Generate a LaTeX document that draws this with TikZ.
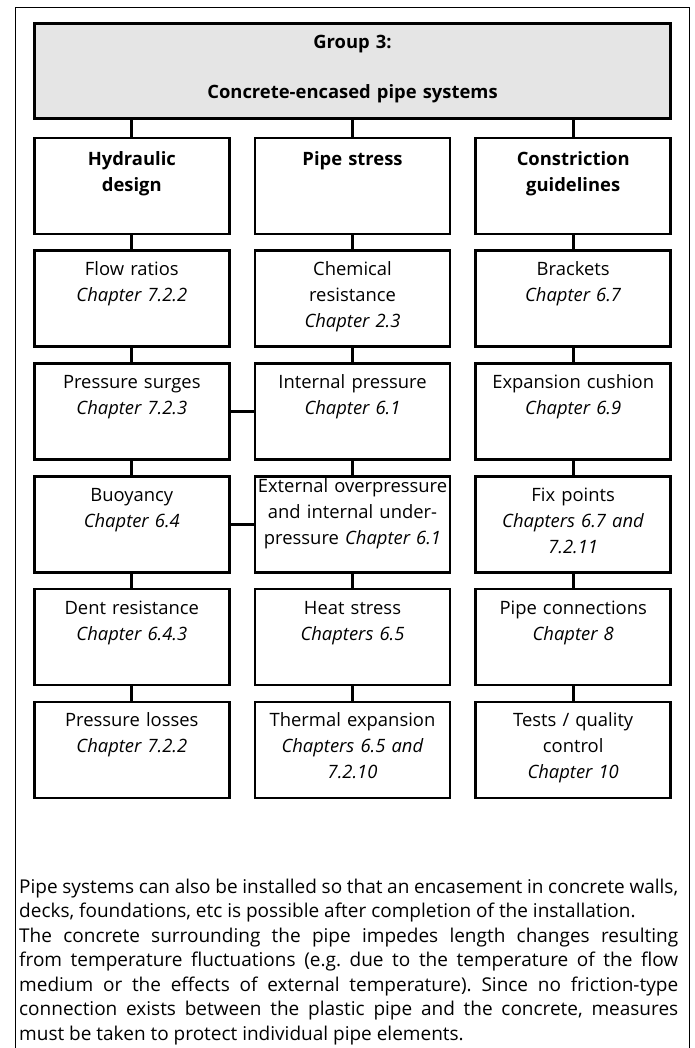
\documentclass[tikz,border=0pt]{standalone}
\usepackage{fontspec}
\setmainfont{Open Sans}
\usepackage{tikz}
\usepackage{xcolor}
\usetikzlibrary{matrix}
\usetikzlibrary{positioning}

\definecolor{headGray}{gray}{0.9}
\frenchspacing

\begin{document}
\begin{tikzpicture}
[
x=1pt, y=-1pt,
chapBox/.style={
	draw=black,
	rectangle,
	line width=2.7pt,
	text width=189pt,
	inner xsep=3pt,
	inner ysep=4pt,
	text height=21pt,
	text depth=67pt,
	align=center,
	font=\fontsize{18.4}{26}\selectfont},
headBox/.style={
	chapBox,
	text height=24pt,
	text depth=64pt,
	font=\fontsize{18.4}{26}\selectfont\bfseries},
groupBox/.style={
	headBox,
	fill=headGray,
	text width=630.5pt,
	text height=21pt,
	text depth=65.8pt},
linkLine/.style={
	line width=2.7pt},
noteText/.style={
	draw=none,
	text width=659pt,
	inner sep=0pt,
	align=justify,
	font=\fontsize{19}{24.5}\selectfont}
]
\useasboundingbox (0,0) rectangle (694,1048);

%outer frame, open at the bottom
\draw [line width=0.9pt] (15.7,1060) -- (15.7,7.3) -- (689.7,7.3) -- (689.7,1060);

\matrix (grid) [anchor=north, inner sep=0pt, outer sep=0pt, row sep=14.1pt, column sep=23pt] at (352.5,136.5)
{
\node (hh) [headBox] {Hydraulic\\design}; & \node (ph) [headBox] {Pipe stress}; & \node (ch) [headBox] {Constriction\\guidelines}; \\
\node (h1) [chapBox] {Flow ratios\\\textit{Chapter 7.2.2}}; & \node (p1) [chapBox] {Chemical\\resistance\\\textit{Chapter 2.3}}; & \node (c1) [chapBox] {Brackets\\\textit{Chapter 6.7}}; \\
\node (h2) [chapBox] {Pressure surges\\\textit{Chapter 7.2.3}}; & \node (p2) [chapBox] {Internal pressure\\\textit{Chapter 6.1}}; & \node (c2) [chapBox] {Expansion cushion\\\textit{Chapter 6.9}}; \\
\node (h3) [chapBox] {Buoyancy\\\textit{Chapter 6.4}}; & \node (p3) [chapBox, inner xsep=1pt, text width=193pt, text height=12.5pt, text depth=75.5pt] {External overpressure\\and internal under-\\pressure \textit{Chapter 6.1}}; & \node (c3) [chapBox] {Fix points\\\textit{Chapters 6.7 and}\\\textit{7.2.11}}; \\
\node (h4) [chapBox] {Dent resistance\\\textit{Chapter 6.4.3}}; & \node (p4) [chapBox] {Heat stress\\\textit{Chapters 6.5}}; & \node (c4) [chapBox] {Pipe connections\\\textit{Chapter 8}}; \\
\node (h5) [chapBox] {Pressure losses\\\textit{Chapter 7.2.2}}; & \node (p5) [chapBox] {Thermal expansion\\\textit{Chapters 6.5 and}\\\textit{7.2.10}}; & \node (c5) [chapBox] {Tests / quality\\control\\\textit{Chapter 10}}; \\
};

\node (title) [groupBox, above=16.5pt of grid] {Group 3:\\[24pt]Concrete-encased pipe systems};

\node (note) [noteText, anchor=base west] at (19,893) {\makebox[\linewidth][s]{Pipe systems can also be installed so that an encasement in concrete walls,}\par decks, foundations, etc is possible after completion of the installation.\par The concrete surrounding the pipe impedes length changes resulting\linebreak from temperature fluctuations (e.g. due to the temperature of the flow\linebreak medium or the effects of external temperature). Since no friction-type\linebreak connection exists between the plastic pipe and the concrete, measures\linebreak must be taken to protect individual pipe elements.};

%group to column heads
\draw [linkLine] (title.south -| hh.north) -- (hh.north);
\draw [linkLine] (title.south -| ph.north) -- (ph.north);
\draw [linkLine] (title.south -| ch.north) -- (ch.north);

%hydraulic column
\draw [linkLine] (hh.south) -- (h1.north);
\draw [linkLine] (h1.south) -- (h2.north);
\draw [linkLine] (h2.south) -- (h3.north);
\draw [linkLine] (h3.south) -- (h4.north);
\draw [linkLine] (h4.south) -- (h5.north);

%pipe stress column
\draw [linkLine] (ph.south) -- (p1.north);
\draw [linkLine] (p1.south) -- (p2.north);
\draw [linkLine] (p2.south) -- (p3.north);
\draw [linkLine] (p3.south) -- (p4.north);
\draw [linkLine] (p4.south) -- (p5.north);

%constriction column
\draw [linkLine] (ch.south) -- (c1.north);
\draw [linkLine] (c1.south) -- (c2.north);
\draw [linkLine] (c2.south) -- (c3.north);
\draw [linkLine] (c3.south) -- (c4.north);
\draw [linkLine] (c4.south) -- (c5.north);

%cross links
\draw [linkLine] (h2.east) -- (p2.west);
\draw [linkLine] (h3.east) -- (p3.west);

\end{tikzpicture}
\end{document}
